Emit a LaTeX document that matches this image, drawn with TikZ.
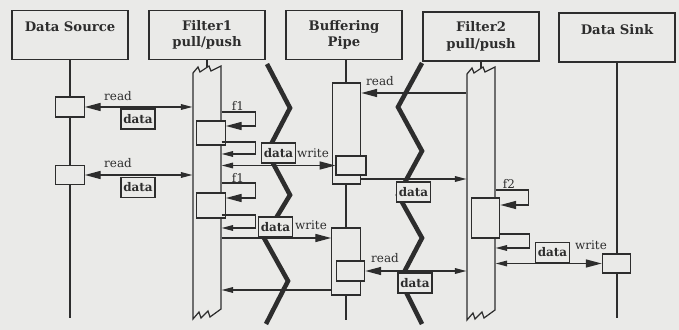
\documentclass[tikz,border=0pt]{standalone}
\usepackage{fontspec}
\setmainfont{DejaVu Serif}
\usetikzlibrary{arrows.meta, positioning}
\definecolor{paper}{RGB}{234,234,232}
\definecolor{ink}{RGB}{45,45,45}

\begin{document}
\begin{tikzpicture}[x=0.02cm, y=-0.02cm, line width=0.7pt, color=ink,
    bigtip/.tip={Triangle[length=9pt,width=4.6pt]},
    smalltip/.tip={Triangle[length=6.5pt,width=3.2pt]},
    header/.style={draw, fill=paper, minimum width=2.32cm, minimum height=0.98cm, align=center, font=\fontsize{7.5}{9.5}\selectfont\bfseries},
    act/.style={draw, fill=paper, minimum width=0.57cm, inner sep=0pt},
    bar/.style={minimum width=0.56cm, minimum height=5cm, inner sep=0pt},
    databox/.style={draw, fill=paper, minimum width=0.68cm, minimum height=0.4cm, inner sep=1pt, font=\fontsize{6.8}{8}\selectfont\bfseries},
    msg/.style={font=\fontsize{6.8}{8}\selectfont, inner sep=1pt},
    thread/.style={line width=2.6pt}]
                % Paper
                \fill[paper] (0,0) rectangle (679,330);
                \useasboundingbox (0,0) rectangle (679,330);

                % Thread borders
                \draw[thread] (267,64) -- (290,108) -- (267,152) -- (290,195) -- (264,238) -- (288,281) -- (266,324);
                \draw[thread] (422,63) -- (398,107) -- (422,151) -- (398,195) -- (422,238) -- (400,280) -- (422,324);

                % Headers
                \node[header] (src) at (70,35) {Data Source\\~};
                \node[header] (flt1) at (207,35) {Filter1\\pull/push};
                \node[header] (pipe) at (344,35) {Buffering\\Pipe};
                \node[header] (flt2) at (481,36.5) {Filter2\\pull/push};
                \node[header] (sink) at (617,37.5) {Data Sink\\~};

                % Lifelines
                \coordinate (srcEnd) at (70,318);
                \coordinate (pipeEnd) at (346,320);
                \coordinate (sinkEnd) at (617,318);
                \draw (src) -- (srcEnd);
                \draw (pipe.south -| pipeEnd) -- (pipeEnd);
                \draw (sink) -- (sinkEnd);

                % Filter bars with torn ends
                \node[bar] (f1bar) at (207,193) {};
                \node[bar] (f2bar) at (481,194) {};
                \draw (flt1) -- (f1bar.north);
                \draw (flt2) -- (f2bar.north);
                \foreach \x/\y in {207/0, 481/1} {
                    \draw[fill=paper, shift={(\x,\y)}] (-14,73) -- (-9,67) -- (-7,72) -- (2,66) -- (4,71) -- (14,66)
                        -- (14,309) -- (3,317) -- (1,311) -- (-6,318) -- (-8,312) -- (-14,319) -- cycle;
                }

                % Activations
                \node[act, minimum height=0.4cm] (srcA1) at (70,107) {};
                \node[act, minimum height=0.38cm] (srcA2) at (70,175) {};
                \node[act, minimum height=0.48cm] (f1A1) at (211,133) {};
                \node[act, minimum height=0.5cm] (f1A2) at (211,205.5) {};
                \node[act, minimum height=2.02cm] (pipeB1) at (346.5,133.5) {};
                \node[act, minimum height=0.38cm, minimum width=0.6cm] (pipeW) at (351,165.5) {};
                \node[act, minimum height=1.34cm] (pipeB2) at (346,261.5) {};
                \node[act, minimum height=0.4cm] (pipeR) at (350.5,271) {};
                \node[act, minimum height=0.8cm] (f2A) at (485.5,218) {};
                \node[act, minimum height=0.38cm] (sinkA) at (616.5,263.5) {};

                % Source <-> Filter1
                \draw[bigtip-smalltip] (srcA1) -- (f1bar.west |- srcA1);
                \draw[bigtip-smalltip] (srcA2) -- (f1bar.west |- srcA2);

                % f1 calls
                \draw[-bigtip] (f1bar.east |- 0,112) -- ++(34,0) |- (f1A1.east |- 0,126);
                \draw[-smalltip] (f1bar.east |- 0,142) -- ++(34,0) |- (f1bar.east |- 0,154);
                \draw[-bigtip] (f1bar.east |- 0,183) -- ++(34,0) |- (f1A2.east |- 0,198);
                \draw[-smalltip] (f1bar.east |- 0,215) -- ++(34,0) |- (f1bar.east |- 0,228);

                % Filter1 <-> Pipe
                \draw[smalltip-bigtip] (f1bar.east |- pipeW) -- (pipeW);
                \draw[-bigtip] (f1bar.east |- 0,238) -- (pipeB2.west |- 0,238);
                \draw[-smalltip] (pipeB2.west |- 0,290) -- (f1bar.east |- 0,290);

                % Pipe <-> Filter2
                \draw[-bigtip] (f2bar.west |- 0,93) -- (pipeB1.east |- 0,93);
                \draw[-smalltip] (pipeB1.east |- 0,179) -- (f2bar.west |- 0,179);
                \draw[bigtip-smalltip] (pipeR) -- (f2bar.west |- pipeR);

                % f2 calls
                \draw[-bigtip] (f2bar.east |- 0,190) -- ++(33,0) |- (f2A.east |- 0,205);
                \draw[-smalltip] (f2A.east |- 0,234) -- ++(29,0) |- (f2bar.east |- 0,248);

                % Filter2 <-> Sink
                \draw[smalltip-bigtip] (f2bar.east |- sinkA) -- (sinkA);

                % Message labels
                \node[msg] (rd1) at (118,96) {read};
                \node[msg] (rd2) at (118,163) {read};
                \node[msg] (rd3) at (380,81) {read};
                \node[msg] (rd4) at (385,258) {read};
                \node[msg] (fa) at (238,106) {f1};
                \node[msg] (fb) at (238,178) {f1};
                \node[msg] (fc) at (509,184) {f2};
                \node[msg] (wr1) at (313,153) {write};
                \node[msg] (wr2) at (311,225) {write};
                \node[msg] (wr3) at (591,245) {write};

                % Data tokens
                \node[databox] (dt1) at (138,119) {data};
                \node[databox] (dt2) at (138,187.5) {data};
                \node[databox] (dt3) at (278.5,153) {data};
                \node[databox] (dt4) at (275.5,227) {data};
                \node[databox] (dt5) at (413.5,192) {data};
                \node[databox] (dt6) at (415,283) {data};
                \node[databox] (dt7) at (552.5,252.5) {data};
            \end{tikzpicture}
\end{document}
